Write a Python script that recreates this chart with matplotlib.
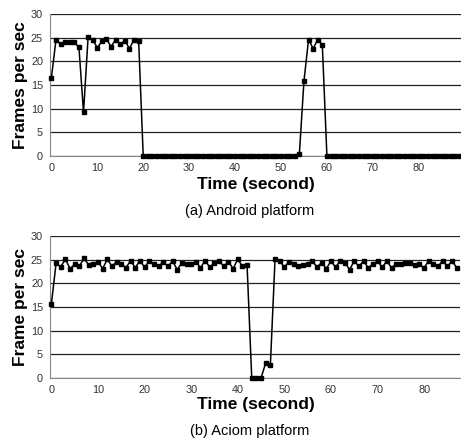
import matplotlib.pyplot as plt

plt.rcParams['font.family'] = ['Liberation Sans', 'DejaVu Sans']

# Android platform: frames per second, one value per second (0..89)
android_fps = [16.5, 24.5, 23.6, 24.0, 24.0, 24.0, 23.0, 9.2, 25.2, 24.5,
               22.9, 24.2, 24.7, 23.1, 24.6, 23.6, 24.4, 22.7, 24.6, 24.4] \
    + [0.0] * 34 \
    + [0.4, 15.8, 24.6, 22.7, 24.6, 23.5] \
    + [0.0] * 30

# Aciom platform: frames per second (0..87)
aciom_fps = [15.7, 24.2, 23.5, 25.1, 23.1, 24.0, 23.6, 25.3, 23.9, 24.0,
             24.6, 23.1, 25.1, 23.6, 24.6, 24.1, 23.3, 24.8, 23.3, 24.8,
             23.4, 24.7, 24.1, 23.6, 24.5, 23.6, 24.7, 22.9, 24.3, 24.1,
             24.0, 24.6, 23.3, 24.8, 23.4, 24.3, 24.7, 23.6, 24.6, 23.1,
             25.1, 23.6, 23.8, 0.0, 0.0, 0.0, 3.2, 2.7, 25.1, 24.8,
             23.4, 24.6, 24.1, 23.6, 23.8, 24.0, 24.8, 23.4, 24.4, 23.1,
             24.7, 23.4, 24.8, 24.4, 22.9, 24.7, 23.6, 24.7, 23.3, 24.1,
             24.7, 23.4, 24.7, 23.3, 24.1, 24.1, 24.3, 24.3, 23.8, 24.0,
             23.3, 24.8, 24.0, 23.6, 24.8, 23.6, 24.7, 23.3]

panels = [
    (android_fps, 'Frames per sec', '(a) Android platform', 89.2),
    (aciom_fps, 'Frame per sec', '(b) Aciom platform', 87.7),
]

fig = plt.figure(figsize=(4.61, 4.41), dpi=100)
W, H = 461, 441
boxes = [(50, 14, 461, 156), (50, 236, 460, 378)]
label_y = [184, 405]
caption_y = [211, 431]

for (vals, ylab, cap, xmax), (l, t, r, b), ly, cy in zip(panels, boxes, label_y, caption_y):
    ax = fig.add_axes([l / W, 1 - b / H, (r - l) / W, (b - t) / H])
    x = list(range(len(vals)))
    ax.plot(x, vals, color='black', lw=1.1, marker='s', ms=2.6, clip_on=False, zorder=3)
    ax.set_xlim(-0.3, xmax)
    ax.set_ylim(0, 30)
    ax.set_yticks(range(0, 31, 5))
    ax.set_xticks(range(0, int(xmax) + 1, 10))
    ax.yaxis.grid(True, color='#222222', lw=0.9)
    ax.set_axisbelow(True)
    for s in ['top', 'right']:
        ax.spines[s].set_visible(False)
    ax.spines['left'].set_color('#888888')
    ax.spines['bottom'].set_color('#888888')
    ax.tick_params(length=0, labelsize=7.8, colors='#333333', pad=5)
    ax.set_ylabel(ylab, fontsize=12.5, fontweight='bold', labelpad=2)
    fig.text(256 / W, 1 - ly / H, 'Time (second)', fontsize=12.5, fontweight='bold',
             ha='center', va='center')
    fig.text(250 / W, 1 - cy / H, cap, fontsize=10.5, ha='center', va='center')

fig.savefig('out.png', dpi=100)
